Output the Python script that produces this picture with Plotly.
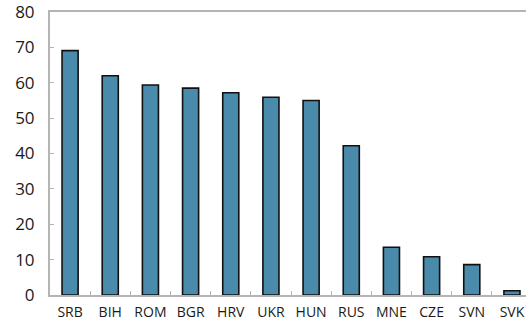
import plotly.graph_objects as go

countries = ["SRB", "BIH", "ROM", "BGR", "HRV", "UKR", "HUN", "RUS", "MNE", "CZE", "SVN", "SVK"]
values = [69.1, 62.0, 59.4, 58.5, 57.2, 55.9, 55.0, 42.2, 13.5, 10.8, 8.6, 1.2]
y_ticks = [0, 10, 20, 30, 40, 50, 60, 70, 80]

bar_color = "#4a8aab"
axis_gray = "#b4b4b4"

fig = go.Figure(
    go.Bar(
        x=countries,
        y=values,
        width=0.4,
        marker=dict(color=bar_color, line=dict(color="#111111", width=1.6)),
    )
)

fig.update_layout(
    width=526,
    height=327,
    margin=dict(l=50, r=0, t=12, b=32),
    paper_bgcolor="white",
    plot_bgcolor="white",
    showlegend=False,
    font=dict(family="Open Sans", color="#1a1a1a"),
)

fig.update_xaxes(
    type="category",
    range=[-0.5, 11.35],
    showline=True,
    linecolor=axis_gray,
    linewidth=2,
    mirror=True,
    ticks="inside",
    tickson="boundaries",
    ticklen=4,
    tickcolor=axis_gray,
    tickwidth=1,
    showgrid=False,
    tickangle=0,
    tickfont=dict(size=14),
    ticklabelstandoff=3,
)

fig.update_yaxes(
    range=[0, 80.02],
    tickvals=y_ticks,
    showline=True,
    linecolor=axis_gray,
    linewidth=2,
    ticks="inside",
    ticklen=4,
    tickcolor=axis_gray,
    showgrid=False,
    zeroline=False,
    tickfont=dict(size=17),
    ticklabelstandoff=10,
)

fig.write_html("out.html")
